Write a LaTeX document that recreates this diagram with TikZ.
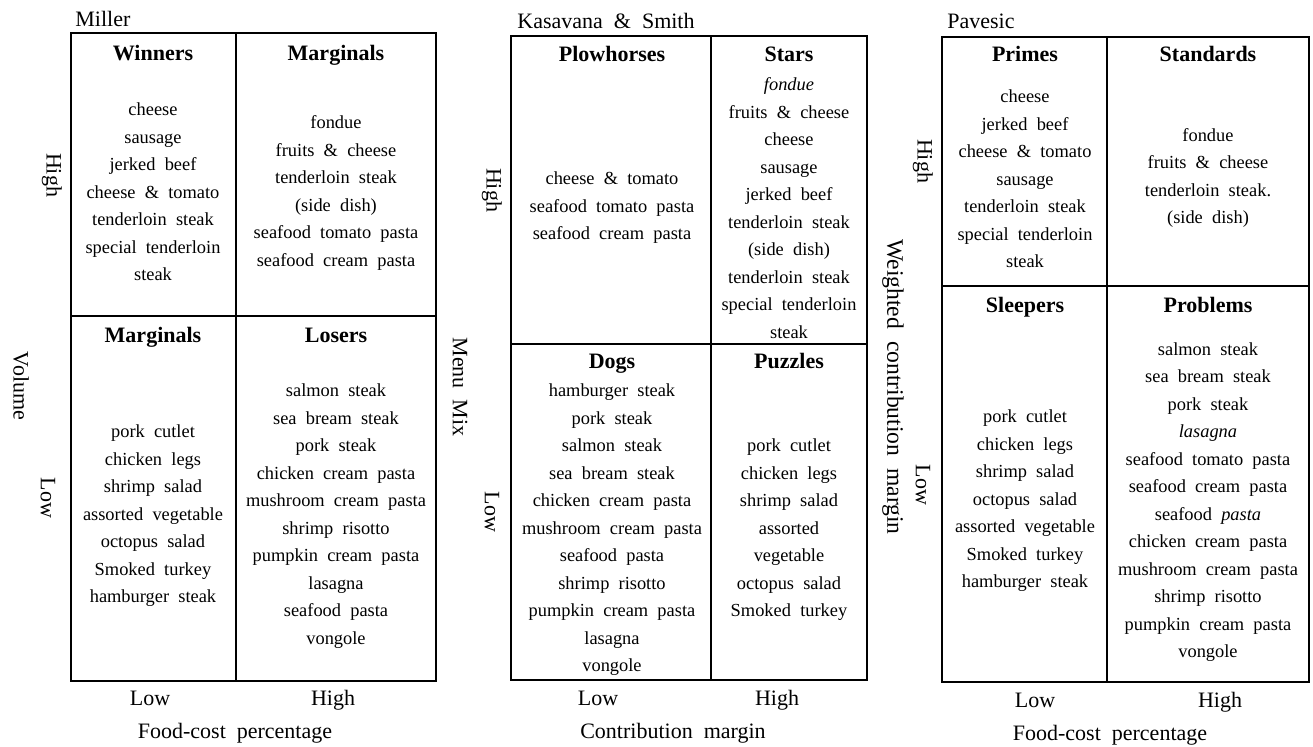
\documentclass[tikz,border=0pt]{standalone}
\usepackage{fontspec}
\setmainfont{Liberation Serif}[WordSpace=2]
\begin{document}
\begin{tikzpicture}[x=0.5pt,y=-0.5pt]
\tikzset{
    etiqueta/.style={text centered, inner sep=0pt, font=\fontsize{11}{13}\selectfont},
    cabecera/.style={text centered, inner sep=0pt, font=\fontsize{11}{13}\selectfont\bfseries},
    lista/.style={align=center, inner sep=0pt, font=\fontsize{9.2}{13.75}\selectfont},
    eje/.style={etiqueta, rotate=-90},
    borde/.style={line width=0.6pt}
}
\useasboundingbox (0,0) rectangle (1313,746);
% Miller
\draw[borde] (71,33) rectangle (436,681);
\draw[borde] (236,33) -- (236,681);
\draw[borde] (71,316) -- (436,316);
\node[etiqueta, anchor=base west] (miller) at (75,26) {Miller};
\node[cabecera, anchor=base] (winners) at (153,60) {Winners};
\node[cabecera, anchor=base] (marg1) at (336,60) {Marginals};
\node[cabecera, anchor=base] (marg2) at (153,342) {Marginals};
\node[cabecera, anchor=base] (losers) at (336,342) {Losers};
\node[lista] (winnersl) at (153,192) {cheese\\sausage\\jerked beef\\cheese \& tomato\\tenderloin steak\\special tenderloin\\steak};
\node[lista] (marg1l) at (336,193) {fondue\\fruits \& cheese\\tenderloin steak\\(side dish)\\seafood tomato pasta\\seafood cream pasta};
\node[lista] (marg2l) at (153,516) {pork cutlet\\chicken legs\\shrimp salad\\assorted vegetable\\octopus salad\\Smoked turkey\\hamburger steak};
\node[lista] (losersl) at (336,516) {salmon steak\\sea bream steak\\pork steak\\chicken cream pasta\\mushroom cream pasta\\shrimp risotto\\pumpkin cream pasta\\lasagna\\seafood pasta\\vongole};
\node[eje] (altoa) at (52,175) {High};
\node[eje] (bajoa) at (48,498) {Low};
\node[eje] (volumen) at (21,386) {Volume};
\node[etiqueta, anchor=base] (bajoxa) at (150,705) {Low};
\node[etiqueta, anchor=base] (altoxa) at (333,705) {High};
\node[etiqueta, anchor=base] (costoa) at (235,738) {Food-cost percentage};
% Kasavana & Smith
\draw[borde] (511,36) rectangle (867,680);
\draw[borde] (711,36) -- (711,680);
\draw[borde] (511,344) -- (867,344);
\node[etiqueta, anchor=base west] (kasavana) at (517,28) {Kasavana \& Smith};
\node[cabecera, anchor=base] (plow) at (612,61) {Plowhorses};
\node[cabecera, anchor=base] (stars) at (789,61) {Stars};
\node[cabecera, anchor=base] (dogs) at (612,368) {Dogs};
\node[cabecera, anchor=base] (puzzles) at (789,368) {Puzzles};
\node[lista] (plowl) at (612,208) {cheese \& tomato\\seafood tomato pasta\\seafood cream pasta};
\node[lista] (starsl) at (789,208) {\textit{fondue}\\fruits \& cheese\\cheese\\sausage\\jerked beef\\tenderloin steak\\(side dish)\\tenderloin steak\\special tenderloin\\steak};
\node[lista] (dogsl) at (612,530) {hamburger steak\\pork steak\\salmon steak\\sea bream steak\\chicken cream pasta\\mushroom cream pasta\\seafood pasta\\shrimp risotto\\pumpkin cream pasta\\lasagna\\vongole};
\node[lista] (puzzlesl) at (789,530) {pork cutlet\\chicken legs\\shrimp salad\\assorted\\vegetable\\octopus salad\\Smoked turkey};
\node[eje] (altob) at (492,190) {High};
\node[eje] (bajob) at (492,512) {Low};
\node[eje] (menu) at (460,387) {Menu Mix};
\node[etiqueta, anchor=base] (bajoxb) at (598,705) {Low};
\node[etiqueta, anchor=base] (altoxb) at (777,705) {High};
\node[etiqueta, anchor=base] (margenb) at (673,738) {Contribution margin};
% Pavesic
\draw[borde] (942,37) rectangle (1309,682);
\draw[borde] (1107,37) -- (1107,682);
\draw[borde] (942,286) -- (1309,286);
\node[etiqueta, anchor=base west] (pavesic) at (947,28) {Pavesic};
\node[cabecera, anchor=base] (primes) at (1025,61) {Primes};
\node[cabecera, anchor=base] (standards) at (1208,61) {Standards};
\node[cabecera, anchor=base] (sleepers) at (1025,312) {Sleepers};
\node[cabecera, anchor=base] (problems) at (1208,312) {Problems};
\node[lista] (primesl) at (1025,179) {cheese\\jerked beef\\cheese \& tomato\\sausage\\tenderloin steak\\special tenderloin\\steak};
\node[lista] (standardsl) at (1208,178) {fondue\\fruits \& cheese\\tenderloin steak.\\(side dish)};
\node[lista] (sleepersl) at (1025,501) {pork cutlet\\chicken legs\\shrimp salad\\octopus salad\\assorted vegetable\\Smoked turkey\\hamburger steak};
\node[lista] (problemsl) at (1208,502) {salmon steak\\sea bream steak\\pork steak\\\textit{lasagna}\\seafood tomato pasta\\seafood cream pasta\\seafood \textit{pasta}\\chicken cream pasta\\mushroom cream pasta\\shrimp risotto\\pumpkin cream pasta\\vongole};
\node[eje] (altoc) at (923,161) {High};
\node[eje] (bajoc) at (923,485) {Low};
\node[eje, font=\fontsize{11.8}{13}\selectfont] (ponderado) at (893,387) {Weighted contribution margin};
\node[etiqueta, anchor=base] (bajoxc) at (1035,707) {Low};
\node[etiqueta, anchor=base] (altoxc) at (1220,707) {High};
\node[etiqueta, anchor=base] (costoc) at (1110,740) {Food-cost percentage};
\end{tikzpicture}
\end{document}
